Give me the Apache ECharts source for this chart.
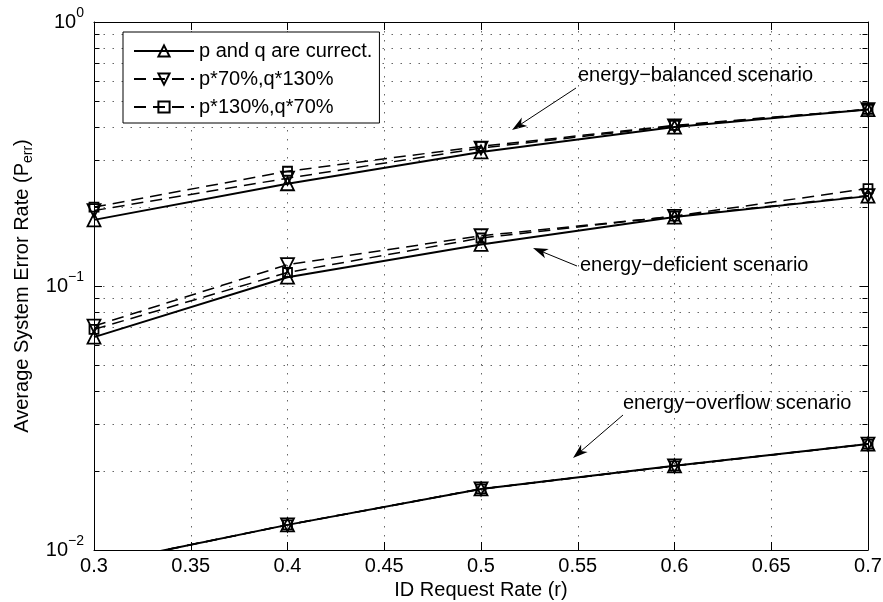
<!DOCTYPE html>
<html><head><meta charset="utf-8">
<script src="https://cdn.jsdelivr.net/npm/echarts/dist/echarts.min.js"></script>
<style>html,body{margin:0;padding:0;background:#fff}#c{width:883px;height:602px}</style>
</head><body><div id="c"></div>
<script>
// ---------- data ----------
const xValues = [0.3, 0.4, 0.5, 0.6, 0.7];
const seriesNames = ['p and q are currect.', 'p*70%,q*130%', 'p*130%,q*70%'];

const balancedCorrect = [0.178, 0.244, 0.322, 0.400, 0.466];
const balancedP70     = [0.193, 0.256, 0.333, 0.404, 0.466];
const balancedP130    = [0.199, 0.272, 0.338, 0.406, 0.467];

const deficientCorrect = [0.0640, 0.1080, 0.1437, 0.1825, 0.219];
const deficientP70     = [0.0705, 0.1205, 0.1550, 0.1835, 0.220];
const deficientP130    = [0.0685, 0.1125, 0.1520, 0.1840, 0.234];

const overflowCorrect = [0.0088, 0.01245, 0.01703, 0.02083, 0.0252];
const overflowP70     = [0.0088, 0.01245, 0.01703, 0.02083, 0.0252];
const overflowP130    = [0.0088, 0.01245, 0.01703, 0.02083, 0.0252];

const minorGridValues = [0.02,0.03,0.04,0.05,0.06,0.07,0.08,0.09,0.2,0.3,0.4,0.5,0.6,0.7,0.8,0.9];
const annotationTexts = ['energy\u2212balanced scenario', 'energy\u2212deficient scenario', 'energy\u2212overflow scenario'];

// ---------- chart ----------
const FONT = '"Liberation Sans", Arial, Helvetica, sans-serif';
const chart = echarts.init(document.getElementById('c'), null, {renderer: 'canvas'});

const markerStyle = {color: 'rgba(255,255,255,0)', borderColor: '#000', borderWidth: 1.8};
const kinds = [
  {symbol: 'triangle', symbolSize: 13, symbolRotate: 0, lineStyle: {color: '#000', width: 2, type: 'solid'}},
  {symbol: 'triangle', symbolSize: 13, symbolRotate: 180, lineStyle: {color: '#000', width: 1.5, type: [12, 7]}},
  {symbol: 'rect', symbolSize: 9, symbolRotate: 0, lineStyle: {color: '#000', width: 1.5, type: [12, 7]}}
];
function mk(kindIdx, arr) {
  const k = kinds[kindIdx];
  return {
    type: 'line', name: seriesNames[kindIdx], xAxisIndex: 0, yAxisIndex: 0,
    data: xValues.map((x, i) => [x, arr[i]]),
    symbol: k.symbol, symbolSize: k.symbolSize, symbolRotate: k.symbolRotate,
    showAllSymbol: true, lineStyle: k.lineStyle, itemStyle: markerStyle,
    emphasis: {disabled: true}, z: 3, clip: true, animation: false
  };
}
const groups = [
  [balancedCorrect, balancedP70, balancedP130],
  [deficientCorrect, deficientP70, deficientP130],
  [overflowCorrect, overflowP70, overflowP130]
];
const lineSeries = [];
groups.forEach(g => g.forEach((arr, k) => lineSeries.push(mk(k, arr))));

const gridSeries = {
  type: 'custom', xAxisIndex: 0, yAxisIndex: 0, silent: true, z: 1, clip: false,
  data: minorGridValues.map(v => [0.5, v]), encode: {x: 0, y: 1},
  renderItem(params, api) {
    const cs = params.coordSys;
    const y = Math.round(api.coord([0.5, api.value(1)])[1]) + 0.5;
    const x0 = Math.round(cs.x) + 0.5, x1 = Math.round(cs.x + cs.width) - 0.5;
    return {type: 'group', children: [
      {type: 'line', shape: {x1: x0, y1: y, x2: x1, y2: y}, style: {stroke: '#666', lineWidth: 1, lineDash: [1.5, 7.5]}},
      {type: 'line', shape: {x1: x0, y1: y, x2: x0 + 5, y2: y}, style: {stroke: '#000', lineWidth: 1}},
      {type: 'line', shape: {x1: x1 - 5, y1: y, x2: x1, y2: y}, style: {stroke: '#000', lineWidth: 1}}
    ]};
  }
};

const axisCommonX = {
  type: 'value', min: 0.3, max: 0.7, interval: 0.05,
  axisLine: {show: true, onZero: false, lineStyle: {color: '#000', width: 1}},
  axisTick: {show: true, inside: true, length: 8, lineStyle: {color: '#000'}}
};
const yLabelRich = {
  b: {fontSize: 20, fontFamily: FONT, color: '#000', lineHeight: 20},
  s: {fontSize: 14, fontFamily: FONT, color: '#000', lineHeight: 14, padding: [0, 0, 18, 0]}
};

chart.setOption({
  animation: false,
  backgroundColor: '#fff',
  grid: {left: 94, right: 15, top: 22, bottom: 52, containLabel: false, outerBoundsMode: 'none'},
  legend: {
    data: seriesNames, orient: 'vertical', left: 123, top: 32,
    backgroundColor: '#fff', borderColor: '#000', borderWidth: 1, borderRadius: 0,
    padding: [9, 7, 6, 10], itemWidth: 60, itemHeight: 14, itemGap: 8,
    textStyle: {fontSize: 20, color: '#000', fontFamily: FONT}
  },
  xAxis: [
    Object.assign({}, axisCommonX, {
      position: 'bottom',
      name: 'ID Request Rate (r)', nameLocation: 'middle', nameGap: 29,
      nameTextStyle: {fontSize: 20, color: '#000', fontFamily: FONT},
      axisLabel: {show: true, margin: 6, fontSize: 20, color: '#000', fontFamily: FONT,
        formatter: v => String(Math.round(v * 100) / 100)},
      splitLine: {show: true, lineStyle: {color: '#666', width: 1, type: [1.5, 7.5]}}
    }),
    Object.assign({}, axisCommonX, {position: 'top', axisLabel: {show: false}, splitLine: {show: false}})
  ],
  yAxis: [
    {
      type: 'log', logBase: 10, min: 0.01, max: 1, position: 'left',
      name: 'Average System Error Rate (P{sub|err})', nameLocation: 'middle', nameGap: 58, nameRotate: 90,
      nameTextStyle: {fontSize: 20, color: '#000', fontFamily: FONT,
        rich: {sub: {fontSize: 14, color: '#000', fontFamily: FONT, lineHeight: 14, padding: [10, 0, 0, 0]}}},
      axisLine: {show: true, lineStyle: {color: '#000', width: 1}},
      axisTick: {show: true, inside: true, length: 8, lineStyle: {color: '#000'}},
      axisLabel: {show: true, margin: 10, rich: yLabelRich,
        formatter: v => { const e = Math.round(Math.log10(v)); return '{b|10}{s|' + (e < 0 ? '\u2212' + (-e) : e) + '}'; }},
      splitLine: {show: true, lineStyle: {color: '#666', width: 1, type: [1.5, 7.5]}}
    },
    {
      type: 'log', logBase: 10, min: 0.01, max: 1, position: 'right',
      axisLine: {show: true, lineStyle: {color: '#000', width: 1}},
      axisTick: {show: true, inside: true, length: 8, lineStyle: {color: '#000'}},
      axisLabel: {show: false}, splitLine: {show: false}
    }
  ],
  series: [gridSeries].concat(lineSeries)
});

// ---------- annotations (text + arrows) ----------
function arrow(x1, y1, x2, y2) {
  const dx = x2 - x1, dy = y2 - y1, L = Math.hypot(dx, dy);
  const ux = dx / L, uy = dy / L, nx = -uy, ny = ux;
  const hl = 15, hw = 5;
  const bx = x2 - ux * hl, by = y2 - uy * hl;
  return [
    {type: 'line', shape: {x1: x1, y1: y1, x2: x2 - ux * 8, y2: y2 - uy * 8}, style: {stroke: '#000', lineWidth: 1}, silent: true},
    {type: 'polygon', shape: {points: [[x2, y2], [bx + nx * hw, by + ny * hw], [x2 - ux * hl * 0.72, y2 - uy * hl * 0.72], [bx - nx * hw, by - ny * hw]]},
      style: {fill: '#000'}, silent: true}
  ];
}
const annPos = [
  {tx: 578, ty: 76, ax1: 576, ay1: 88, ax2: 512, ay2: 130},
  {tx: 580, ty: 266, ax1: 577, ay1: 266, ax2: 533, ay2: 248},
  {tx: 623, ty: 404, ax1: 623, ay1: 415, ax2: 573, ay2: 458}
];
const gfx = [];
annPos.forEach((p, i) => {
  gfx.push({type: 'text', left: p.tx, top: p.ty - 11, silent: true,
    style: {text: annotationTexts[i], fontSize: 20, fill: '#000', fontFamily: FONT}});
  arrow(p.ax1, p.ay1, p.ax2, p.ay2).forEach(e => gfx.push(e));
});
chart.setOption({graphic: gfx});
</script>
</body></html>
